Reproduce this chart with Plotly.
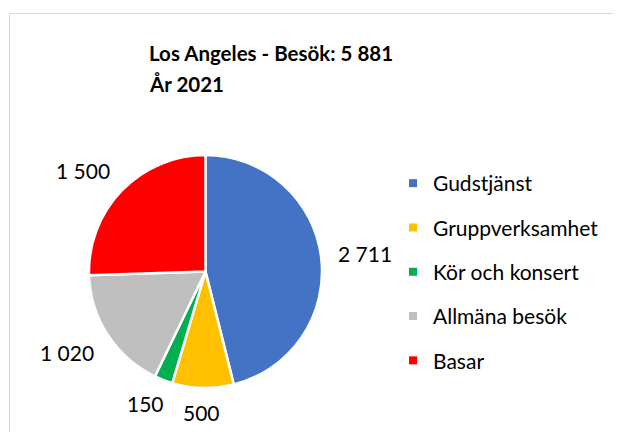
import numpy as np
import plotly.graph_objects as go

WIN_W, WIN_H = 621, 432
OFF = 8  # page body margin: the figure is drawn 8px in from the window corner
W, H = WIN_W - OFF, WIN_H - OFF

categories = ['Gudstjänst', 'Gruppverksamhet', 'Kör och konsert', 'Allmäna besök', 'Basar']
visits = [2711, 500, 150, 1020, 1500]
colors = ['#4472C4', '#FFC000', '#00B050', '#BFBFBF', '#FF0000']
title_lines = ['Los Angeles - Besök: 5 881', 'År 2021']

FONT = 'Lato'
cx, cy, r = 205.5, 271.5, 116.5   # pie centre / radius, window px


def fmt(v):
    return f'{v:,}'.replace(',', ' ')


def px(x, y):
    # window pixel -> paper coords
    return (x - OFF) / W, 1 - (y - OFF) / H


fig = go.Figure()
x0, y1 = px(cx - r, cy - r)
x1, y0 = px(cx + r, cy + r)
fig.add_trace(go.Pie(
    labels=categories,
    values=visits,
    sort=False,
    direction='clockwise',
    rotation=0,
    marker=dict(colors=colors, line=dict(color='white', width=2.5)),
    textinfo='none',
    hoverinfo='label+value',
    showlegend=False,
    domain=dict(x=[x0, x1], y=[y0, y1]),
))

# legend entries (one group each so the rows can be spaced like Excel)
for cat, col in zip(categories, colors):
    fig.add_trace(go.Scatter(
        x=[None], y=[None], mode='markers', name=cat, legendgroup=cat,
        marker=dict(symbol='square', size=8, color=col),
    ))

# data labels outside each slice, at the mid angle
total = sum(visits)
cum = np.cumsum([0] + visits)
for i, v in enumerate(visits):
    ang = np.deg2rad((cum[i] + v / 2) / total * 360)
    s, c = np.sin(ang), np.cos(ang)
    txt = fmt(v)
    w, h = 10.5 * len(txt), 15
    lx = cx + 134 * s + (w / 2) * np.clip(2 * s, -1, 1)
    ly = cy - 134 * c - (h / 2) * np.clip(2 * c, -1, 1)
    ax, ay = px(lx, ly)
    fig.add_annotation(
        x=ax, y=ay, xref='paper', yref='paper',
        text=txt, showarrow=False, xanchor='center', yanchor='middle',
        font=dict(family=FONT, size=21, color='#000000'),
    )

# two-line bold title
for k, line in enumerate(title_lines):
    tx, ty = px(147, 52.5 + 31 * k)
    fig.add_annotation(
        x=tx, y=ty, xref='paper', yref='paper',
        text=f'<b>{line}</b>', showarrow=False, xanchor='left', yanchor='middle',
        font=dict(family=FONT, size=20.5, color='#000000'),
    )

# chart area frame: only the top and left edges are inside the window
fx0, fy1 = px(9.5, 13.5)
frame = dict(color='#D9D9D9', width=1)
fig.add_shape(type='line', xref='paper', yref='paper', x0=fx0, x1=1, y0=fy1, y1=fy1, line=frame)
fig.add_shape(type='line', xref='paper', yref='paper', x0=fx0, x1=fx0, y0=0, y1=fy1, line=frame)

lgx, lgy = px(393, 163)
fig.update_layout(
    width=W, height=H,
    margin=dict(l=0, r=0, t=0, b=0),
    paper_bgcolor='white', plot_bgcolor='white',
    xaxis=dict(visible=False), yaxis=dict(visible=False),
    showlegend=True,
    legend=dict(
        x=lgx, y=lgy, xanchor='left', yanchor='top',
        traceorder='grouped', tracegroupgap=14,
        font=dict(family=FONT, size=21, color='#000000'),
        bgcolor='rgba(0,0,0,0)',
    ),
    font=dict(family=FONT),
)

fig.write_html('out.html')
